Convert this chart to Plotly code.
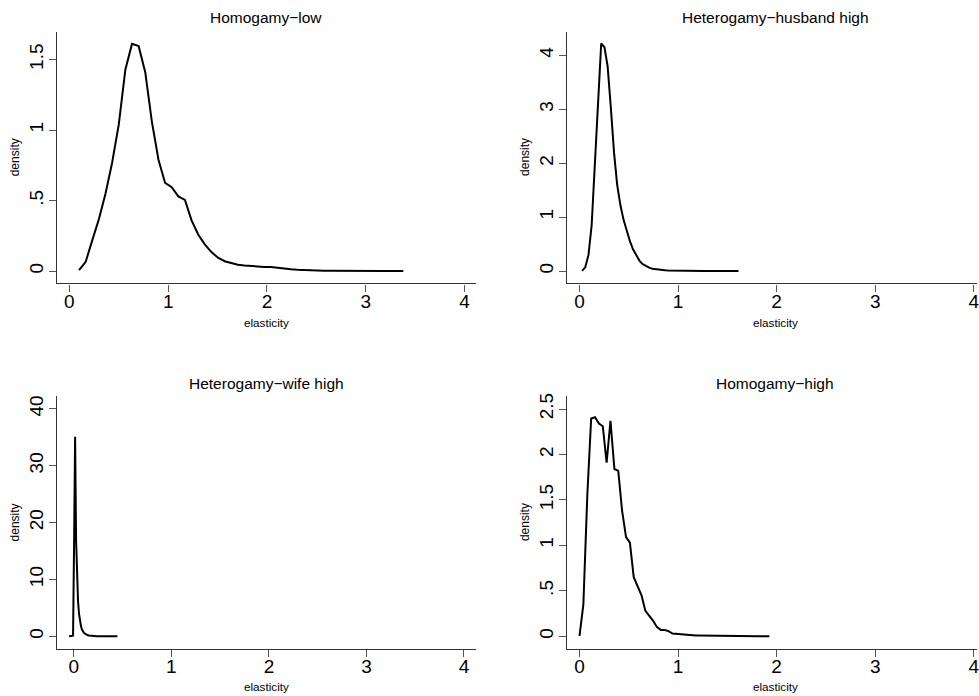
import plotly.graph_objects as go

# ---- data ----
titles = ["Homogamy\u2212low", "Heterogamy\u2212husband high",
          "Heterogamy\u2212wife high", "Homogamy\u2212high"]

x_homo_low = [0.098, 0.165, 0.232, 0.299, 0.366, 0.433, 0.500, 0.567, 0.634, 0.701,
              0.768, 0.835, 0.902, 0.969, 1.036, 1.103, 1.170, 1.237, 1.304, 1.371,
              1.438, 1.505, 1.572, 1.639, 1.706, 1.773, 1.840, 1.907, 1.974, 2.041,
              2.108, 2.175, 2.242, 2.309, 2.376, 2.443, 2.510, 2.577, 2.644, 2.711,
              2.778, 2.845, 2.912, 2.979, 3.046, 3.113, 3.180, 3.247, 3.314, 3.381]
y_homo_low = [0.007, 0.066, 0.22, 0.37, 0.55, 0.77, 1.04, 1.43, 1.611, 1.595,
              1.41, 1.06, 0.79, 0.625, 0.595, 0.53, 0.505, 0.36, 0.26, 0.19,
              0.135, 0.095, 0.07, 0.055, 0.045, 0.04, 0.035, 0.032, 0.03, 0.029,
              0.022, 0.017, 0.013, 0.01, 0.007, 0.005, 0.004, 0.003, 0.003, 0.002,
              0.002, 0.001, 0.001, 0.001, 0.001, 0.0, 0.0, 0.0, 0.0, 0.0]

x_het_husb = [0.026, 0.058, 0.091, 0.123, 0.156, 0.188, 0.220, 0.253, 0.285, 0.317,
              0.350, 0.382, 0.415, 0.447, 0.480, 0.512, 0.544, 0.577, 0.609, 0.641,
              0.674, 0.706, 0.739, 0.771, 0.803, 0.836, 0.868, 0.900, 0.933, 0.965,
              0.998, 1.030, 1.062, 1.095, 1.127, 1.159, 1.192, 1.224, 1.257, 1.289,
              1.321, 1.354, 1.386, 1.418, 1.451, 1.483, 1.516, 1.548, 1.580, 1.613]
y_het_husb = [0.005, 0.07, 0.3, 0.85, 2.0, 3.2, 4.22, 4.15, 3.8, 3.05,
              2.2, 1.6, 1.22, 0.95, 0.73, 0.55, 0.40, 0.28, 0.19, 0.13,
              0.09, 0.065, 0.045, 0.035, 0.027, 0.02, 0.016, 0.013, 0.011, 0.009,
              0.008, 0.007, 0.006, 0.005, 0.005, 0.004, 0.004, 0.003, 0.003, 0.003,
              0.002, 0.002, 0.002, 0.002, 0.001, 0.001, 0.001, 0.001, 0.001, 0.0]

x_het_wife = [-0.048, -0.038, -0.028, -0.018, -0.008, 0.003, 0.013, 0.023, 0.033, 0.043,
              0.053, 0.063, 0.073, 0.083, 0.093, 0.104, 0.114, 0.124, 0.134, 0.144,
              0.154, 0.164, 0.174, 0.184, 0.194, 0.205, 0.215, 0.225, 0.235, 0.245,
              0.255, 0.265, 0.275, 0.285, 0.295, 0.306, 0.316, 0.326, 0.336, 0.346,
              0.356, 0.366, 0.376, 0.386, 0.396, 0.407, 0.417, 0.427, 0.437, 0.447]
y_het_wife = [0.0, 0.0, 0.0, 0.0, 0.1, 17.0, 35.1, 17.0, 10.0, 6.2,
              4.0, 2.6, 1.8, 1.2, 0.85, 0.6, 0.45, 0.33, 0.25, 0.18,
              0.13, 0.1, 0.08, 0.06, 0.05, 0.04, 0.03, 0.03, 0.02, 0.02,
              0.015, 0.012, 0.01, 0.008, 0.007, 0.006, 0.005, 0.004, 0.004, 0.003,
              0.003, 0.002, 0.002, 0.002, 0.001, 0.001, 0.001, 0.001, 0.0, 0.0]

x_homo_high = [0.000, 0.039, 0.079, 0.118, 0.157, 0.197, 0.236, 0.275, 0.314, 0.354,
               0.393, 0.432, 0.472, 0.511, 0.550, 0.590, 0.629, 0.668, 0.707, 0.747,
               0.786, 0.825, 0.865, 0.904, 0.943, 0.983, 1.022, 1.061, 1.100, 1.140,
               1.179, 1.218, 1.258, 1.297, 1.336, 1.376, 1.415, 1.454, 1.493, 1.533,
               1.572, 1.611, 1.651, 1.690, 1.729, 1.769, 1.808, 1.847, 1.886, 1.926]
y_homo_high = [0.003, 0.35, 1.55, 2.395, 2.41, 2.34, 2.31, 1.91, 2.37, 1.84,
               1.82, 1.38, 1.09, 1.03, 0.65, 0.55, 0.45, 0.28, 0.23, 0.17,
               0.10, 0.07, 0.07, 0.055, 0.03, 0.025, 0.025, 0.02, 0.015, 0.01,
               0.008, 0.007, 0.006, 0.005, 0.004, 0.004, 0.003, 0.003, 0.002, 0.002,
               0.002, 0.001, 0.001, 0.001, 0.001, 0.001, 0.0, 0.0, 0.0, 0.0]

x_ticks = [0, 1, 2, 3, 4]
x_ticktext = ["0", "1", "2", "3", "4"]
y_ticks = [[0, 0.5, 1, 1.5], [0, 1, 2, 3, 4], [0, 10, 20, 30, 40], [0, 0.5, 1, 1.5, 2, 2.5]]
y_ticktext = [["0", ".5", "1", "1.5"], ["0", "1", "2", "3", "4"],
              ["0", "10", "20", "30", "40"], ["0", ".5", "1", "1.5", "2", "2.5"]]

xs = [x_homo_low, x_het_husb, x_het_wife, x_homo_high]
ys = [y_homo_low, y_het_husb, y_het_wife, y_homo_high]

# ---- layout geometry ----
W, H = 979, 696
x_doms = [[0.0585, 0.4875], [0.5805, 1.0], [0.0585, 0.4875], [0.5805, 1.0]]
y_doms = [[0.5953, 0.9579], [0.5953, 0.9579], [0.0685, 0.4325], [0.0685, 0.4325]]
x_ranges = [[-0.124, 4.12], [-0.1256, 4.033], [-0.171, 4.126], [-0.1256, 4.033]]
y_ranges = [[-0.0875, 1.694], [-0.229, 4.43], [-2.15, 42.2], [-0.135, 2.64]]

FONT = "Liberation Sans, Arial, Helvetica, sans-serif"

fig = go.Figure()
layout = dict(width=W, height=H, margin=dict(l=0, r=0, t=0, b=0),
              paper_bgcolor="white", plot_bgcolor="white", showlegend=False,
              font=dict(family=FONT, color="black"))

annotations = []
for i in range(4):
    n = "" if i == 0 else str(i + 1)
    fig.add_trace(go.Scatter(x=xs[i], y=ys[i], mode="lines",
                             line=dict(color="black", width=2),
                             xaxis="x" + n, yaxis="y" + n, hoverinfo="skip"))
    layout["xaxis" + n] = dict(domain=x_doms[i], range=x_ranges[i], anchor="y" + n,
                               showgrid=False, zeroline=False, showline=True,
                               linecolor="#333333", linewidth=1.3,
                               ticks="outside", ticklen=7, tickwidth=1.3, tickcolor="#555555",
                               tickvals=x_ticks, ticktext=x_ticktext,
                               ticklabeloverflow="allow", ticklabelstandoff=-6,
                               tickfont=dict(size=19, family=FONT, color="black"))
    layout["yaxis" + n] = dict(domain=y_doms[i], range=y_ranges[i], anchor="x" + n,
                               showgrid=False, zeroline=False, showline=True,
                               linecolor="#333333", linewidth=1.3,
                               ticks="outside", ticklen=7, tickwidth=1.3, tickcolor="#555555",
                               tickvals=y_ticks[i], ticktext=y_ticktext[i], tickangle=-90,
                               ticklabeloverflow="allow", ticklabelstandoff=-2,
                               tickfont=dict(size=19, family=FONT, color="black"))
    cx = 267 / W if i % 2 == 0 else 777 / W
    ty = 1 - 15 / H if i < 2 else 1 - 381.7 / H
    xty = 1 - 320.7 / H if i < 2 else 1 - 686.7 / H
    ytx = 15 / W if i % 2 == 0 else 526.7 / W
    yty = 1 - 155 / H if i < 2 else 1 - 521.7 / H
    annotations.append(dict(text=titles[i], x=cx, y=ty, xref="paper", yref="paper",
                            xanchor="center", yanchor="middle", showarrow=False,
                            font=dict(size=15.5, family=FONT, color="black")))
    annotations.append(dict(text="elasticity", x=cx, y=xty, xref="paper", yref="paper",
                            xanchor="center", yanchor="middle", showarrow=False,
                            font=dict(size=11.7, family=FONT, color="black")))
    annotations.append(dict(text="density", x=ytx, y=yty, xref="paper", yref="paper",
                            xanchor="center", yanchor="middle", showarrow=False, textangle=-90,
                            font=dict(size=12, family=FONT, color="black")))

layout["annotations"] = annotations
fig.update_layout(**layout)
fig.write_html("out.html", config={"displayModeBar": False},
               post_script="document.body.style.margin='0';document.body.style.overflow='hidden';")
